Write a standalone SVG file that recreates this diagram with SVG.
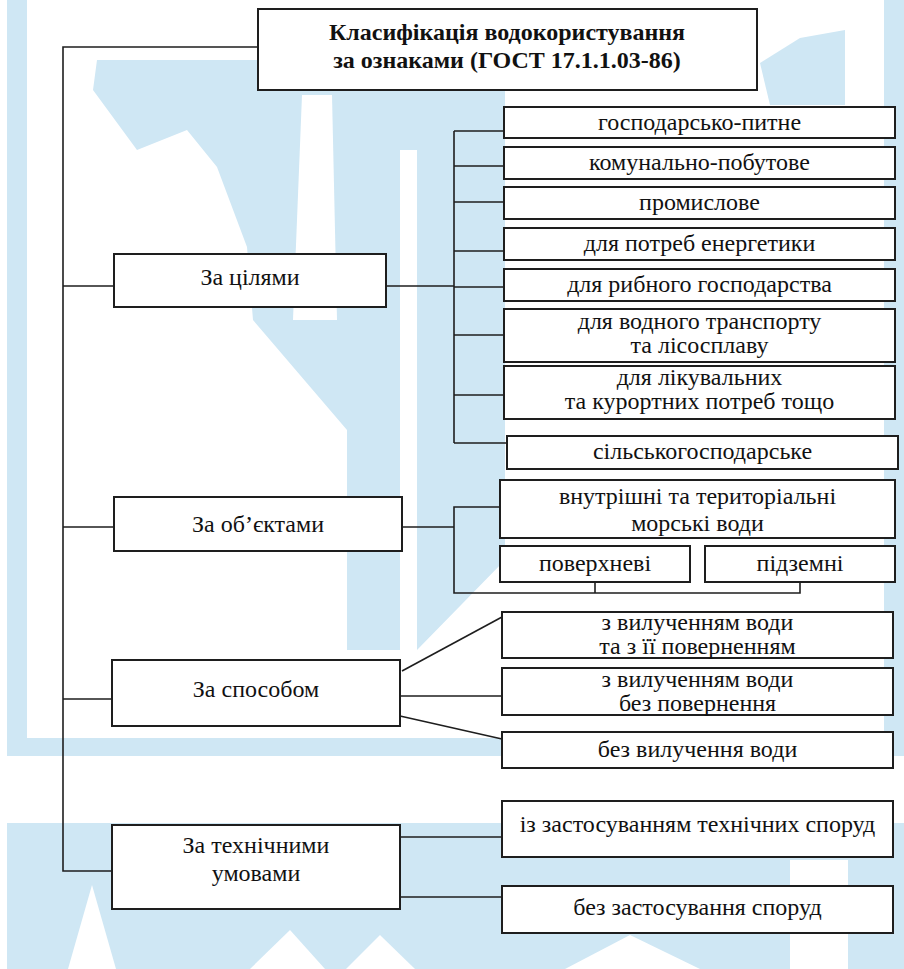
<svg xmlns="http://www.w3.org/2000/svg" width="904" height="969" viewBox="0 0 904 969">
  <style>
    .wm { fill: #cfe7f4; }
    .wh { fill: #ffffff; }
    .box { fill: #ffffff; stroke: #1e1e1e; stroke-width: 2; }
    .ln { fill: none; stroke: #1e1e1e; stroke-width: 1.6; }
    text { font-family: "Liberation Serif", "Times New Roman", Times, "DejaVu Serif", serif; font-size: 24px; fill: #111; text-anchor: middle; }
    .ttl { font-weight: bold; font-size: 24px; }
  </style>

  <!-- background -->
  <rect x="0" y="0" width="904" height="969" fill="#ffffff"/>

  <!-- light blue emblem behind the chart -->
  <g id="emblem">
    <rect class="wm" x="7" y="0" width="20" height="740"/>
    <rect class="wm" x="884" y="0" width="20" height="740"/>
    <rect class="wm" x="7" y="738" width="897" height="18"/>
    <polygon class="wm" points="97,60 505,60 505,560 417,650 347,650 347,430 253,320 247,247 217,167 187,130 137,150 93,90"/>
    <polygon class="wm" points="760,63 800,38 845,30 845,105 770,105"/>
    <rect class="wh" x="400" y="150" width="17" height="500"/>
    <polygon class="wh" points="302,95 332,95 337,320 293,320"/>
    <rect class="wm" x="7" y="823" width="897" height="146"/>
    <polygon class="wh" points="68,969 92,885 116,969"/>
    <polygon class="wh" points="250,969 290,930 325,969"/>
    <polygon class="wh" points="346,969 380,935 415,969"/>
    <polygon class="wh" points="565,969 630,935 700,969"/>
    <rect class="wh" x="790" y="860" width="58" height="109"/>
  </g>

  <!-- connectors -->
  <g id="connectors">
    <!-- main spine -->
    <polyline class="ln" points="258,47 63,47 63,871 112,871"/>
    <line class="ln" x1="63" y1="286" x2="114" y2="286"/>
    <line class="ln" x1="63" y1="527" x2="114" y2="527"/>
    <line class="ln" x1="63" y1="699" x2="112" y2="699"/>
    <!-- purposes -->
    <line class="ln" x1="386" y1="286" x2="454" y2="286"/>
    <line class="ln" x1="454" y1="131" x2="454" y2="443"/>
    <line class="ln" x1="454" y1="131" x2="504" y2="131"/>
    <line class="ln" x1="454" y1="166" x2="504" y2="166"/>
    <line class="ln" x1="454" y1="202" x2="504" y2="202"/>
    <line class="ln" x1="454" y1="251" x2="504" y2="251"/>
    <line class="ln" x1="454" y1="287" x2="504" y2="287"/>
    <line class="ln" x1="454" y1="335" x2="504" y2="335"/>
    <line class="ln" x1="454" y1="395" x2="504" y2="395"/>
    <line class="ln" x1="454" y1="443" x2="507" y2="443"/>
    <!-- objects -->
    <line class="ln" x1="402" y1="527" x2="454" y2="527"/>
    <polyline class="ln" points="500,507 454,507 454,593 800,593 800,582"/>
    <line class="ln" x1="595" y1="582" x2="595" y2="593"/>
    <!-- method -->
    <line class="ln" x1="402" y1="671" x2="502" y2="617"/>
    <line class="ln" x1="400" y1="696" x2="502" y2="696"/>
    <line class="ln" x1="400" y1="716" x2="502" y2="739"/>
    <!-- technical conditions -->
    <line class="ln" x1="400" y1="837" x2="502" y2="837"/>
    <line class="ln" x1="400" y1="897" x2="502" y2="897"/>
  </g>

  <g id="title">
    <rect class="box" x="258" y="9" width="499" height="81"/>
    <text class="ttl" x="507" y="40">Класифікація водокористування</text>
    <text class="ttl" x="507" y="68">за ознаками (ГОСТ 17.1.1.03-86)</text>
  </g>

  <g id="by-purpose">
    <rect class="box" x="114" y="254" width="272" height="53"/>
    <text x="250" y="285">За цілями</text>
  </g>
  <g id="p-drinking">
    <rect class="box" x="504" y="107" width="391" height="31"/>
    <text x="699.5" y="130">господарсько-питне</text>
  </g>
  <g id="p-municipal">
    <rect class="box" x="504" y="147" width="391" height="32"/>
    <text x="699.5" y="170">комунально-побутове</text>
  </g>
  <g id="p-industrial">
    <rect class="box" x="504" y="187" width="391" height="32"/>
    <text x="699.5" y="210">промислове</text>
  </g>
  <g id="p-energy">
    <rect class="box" x="504" y="228" width="391" height="32"/>
    <text x="699.5" y="251">для потреб енергетики</text>
  </g>
  <g id="p-fishery">
    <rect class="box" x="504" y="269" width="391" height="32"/>
    <text x="699.5" y="292">для рибного господарства</text>
  </g>
  <g id="p-transport">
    <rect class="box" x="504" y="309" width="391" height="53"/>
    <text x="699.5" y="329">для водного транспорту</text>
    <text x="699.5" y="353">та лісосплаву</text>
  </g>
  <g id="p-medical">
    <rect class="box" x="504" y="366" width="391" height="53"/>
    <text x="699.5" y="385">для лікувальних</text>
    <text x="699.5" y="409">та курортних потреб тощо</text>
  </g>
  <g id="p-agriculture">
    <rect class="box" x="507" y="436" width="391" height="33"/>
    <text x="702.5" y="459">сільськогосподарське</text>
  </g>

  <g id="by-object">
    <rect class="box" x="114" y="497" width="288" height="54"/>
    <text x="258" y="532">За об’єктами</text>
  </g>
  <g id="o-sea">
    <rect class="box" x="500" y="480" width="395" height="58"/>
    <text x="697.5" y="504">внутрішні та територіальні</text>
    <text x="697.5" y="531">морські води</text>
  </g>
  <g id="o-surface">
    <rect class="box" x="500" y="546" width="190" height="36"/>
    <text x="595" y="571">поверхневі</text>
  </g>
  <g id="o-ground">
    <rect class="box" x="705" y="546" width="190" height="36"/>
    <text x="800" y="571">підземні</text>
  </g>

  <g id="by-method">
    <rect class="box" x="112" y="660" width="288" height="66"/>
    <text x="256" y="697">За способом</text>
  </g>
  <g id="m-return">
    <rect class="box" x="502" y="612" width="391" height="46"/>
    <text x="697.5" y="630">з вилученням води</text>
    <text x="697.5" y="654">та з її поверненням</text>
  </g>
  <g id="m-noreturn">
    <rect class="box" x="502" y="668" width="391" height="47"/>
    <text x="697.5" y="687">з вилученням води</text>
    <text x="697.5" y="711">без повернення</text>
  </g>
  <g id="m-nowithdrawal">
    <rect class="box" x="502" y="732" width="391" height="36"/>
    <text x="697.5" y="757">без вилучення води</text>
  </g>

  <g id="by-technical">
    <rect class="box" x="112" y="825" width="288" height="84"/>
    <text x="256" y="853">За технічними</text>
    <text x="256" y="881">умовами</text>
  </g>
  <g id="t-structures">
    <rect class="box" x="502" y="801" width="391" height="56"/>
    <text x="697.5" y="832">із застосуванням технічних споруд</text>
  </g>
  <g id="t-nostructures">
    <rect class="box" x="502" y="886" width="391" height="47"/>
    <text x="697.5" y="915">без застосування споруд</text>
  </g>
</svg>
